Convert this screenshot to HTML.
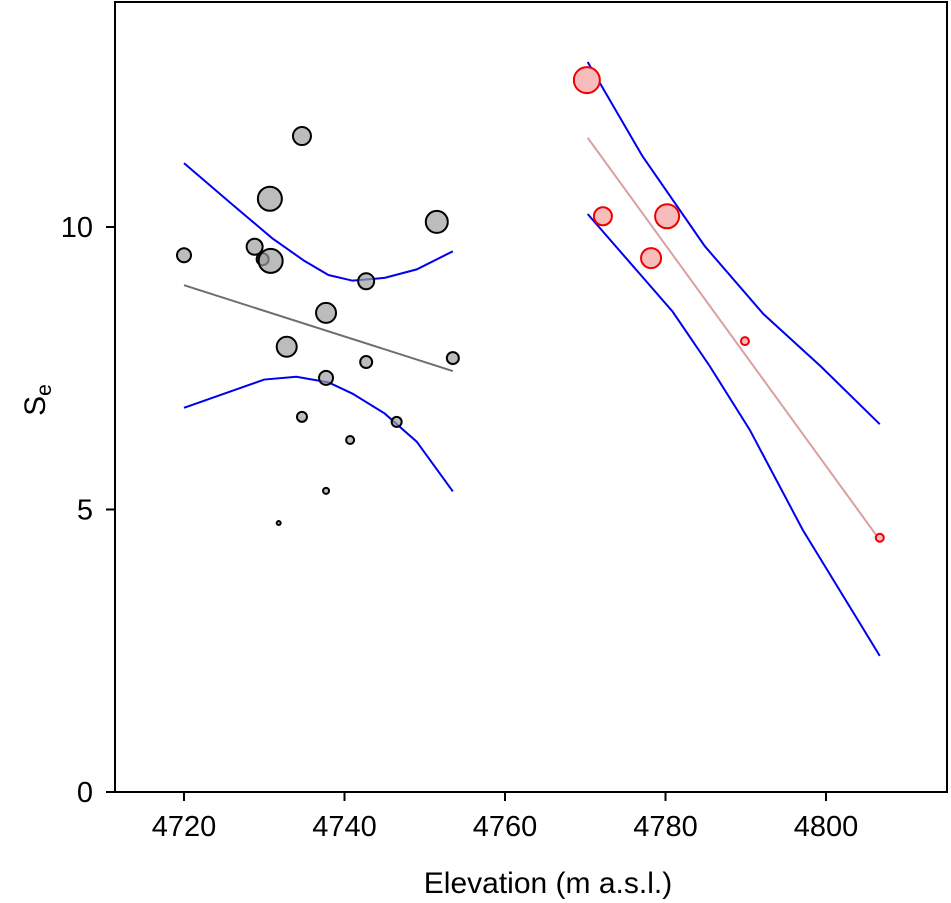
<!DOCTYPE html>
<html><head><meta charset="utf-8"><style>
body{margin:0;background:#fff}
svg{display:block;font-family:"Liberation Sans",Arial,sans-serif}
</style></head><body>
<svg id="chart" width="951" height="903">
<rect x="115" y="2" width="832" height="790" fill="none" stroke="#000" stroke-width="2"/>
<g id="axes"></g><g id="marks"></g>
<text x="548" y="893" text-anchor="middle" font-size="30">Elevation (m a.s.l.)</text>
<text transform="translate(45,400) rotate(-90)" text-anchor="middle" font-size="30">S<tspan font-size="21" dy="6">e</tspan></text>
</svg>
<script>
const xTicks=[4720,4740,4760,4780,4800];
const yTicks=[0,5,10];
const grayX=[4720,4734.7,4730.7,4728.8,4729.8,4730.8,4751.5,4742.7,4737.7,4732.8,4753.5,4742.7,4737.7,4734.7,4746.5,4740.7,4737.7,4731.8];
const grayY=[9.50,11.61,10.50,9.65,9.43,9.40,10.09,9.04,8.48,7.88,7.68,7.61,7.33,6.64,6.55,6.23,5.33,4.76];
const grayR=[7,9,12,8,6,12,11,8,10,10,6,6,7,5,5,4,3,2];
const redX=[4770.2,4772.2,4780.2,4778.2,4789.9,4806.7];
const redY=[12.60,10.19,10.19,9.45,7.98,4.50];
const redR=[13,9,12,10,4,4];
const grayFitX=[4720,4753.5];const grayFitY=[8.97,7.45];
const redFitX=[4770.3,4806.7];const redFitY=[11.58,4.46];
const grayUpX=[4720,4726,4731,4735,4738,4741,4745,4749,4753.5];
const grayUpY=[11.13,10.4,9.8,9.4,9.15,9.05,9.1,9.25,9.57];
const grayLoX=[4720,4725,4730,4734,4738,4741,4745,4749,4753.5];
const grayLoY=[6.8,7.05,7.3,7.35,7.25,7.05,6.7,6.2,5.32];
const redUpX=[4770.3,4777.1,4784.9,4792.2,4799.3,4806.7];
const redUpY=[12.92,11.26,9.66,8.46,7.54,6.51];
const redLoX=[4770.3,4780.9,4785.5,4790.5,4797.1,4806.7];
const redLoY=[10.23,8.50,7.54,6.41,4.64,2.41];
const NS="http://www.w3.org/2000/svg";
const sx=v=>184+(v-4720)*8.025;
const sy=v=>792-v*56.5;
const axes=document.getElementById('axes'),marks=document.getElementById('marks');
function mk(t,a,p){const e=document.createElementNS(NS,t);for(const k in a)e.setAttribute(k,a[k]);p.appendChild(e);return e;}
xTicks.forEach(v=>{
 const l=mk('line',{x1:sx(v),x2:sx(v),y1:792,y2:801,stroke:'#000','stroke-width':2},axes);
 
 
 const t=mk('text',{x:sx(v),y:836,'text-anchor':'middle','font-size':29},axes);t.textContent=v;
 
 
});
yTicks.forEach(v=>{
 const l=mk('line',{x1:106,x2:115,y1:sy(v),y2:sy(v),stroke:'#000','stroke-width':2},axes);
 
 
 const t=mk('text',{x:93,y:sy(v)+10,'text-anchor':'end','font-size':29},axes);t.textContent=v;
 
 
});
function line(xs,ys,col,w,name){
 const p=mk('polyline',{points:xs.map((x,i)=>sx(x)+','+sy(ys[i])).join(' '),fill:'none',stroke:col,'stroke-width':w},marks);
 
 
}
line(grayUpX,grayUpY,'#0000ee',2,'gray-upper-band');
line(grayLoX,grayLoY,'#0000ee',2,'gray-lower-band');
line(redUpX,redUpY,'#0000ee',2,'red-upper-band');
line(redLoX,redLoY,'#0000ee',2,'red-lower-band');
line(grayFitX,grayFitY,'#6e6e6e',2,'gray-regression-line');
line(redFitX,redFitY,'#d9a0a0',2,'red-regression-line');
grayX.forEach((x,i)=>{
 const c=mk('circle',{cx:sx(x),cy:sy(grayY[i]),r:grayR[i],fill:'rgba(160,160,160,0.7)',stroke:'#000','stroke-width':2},marks);
 
 
});
redX.forEach((x,i)=>{
 const c=mk('circle',{cx:sx(x),cy:sy(redY[i]),r:redR[i],fill:'#f7bcbc',stroke:'#ee0000','stroke-width':2},marks);
 
 
});
</script>
</body></html>
